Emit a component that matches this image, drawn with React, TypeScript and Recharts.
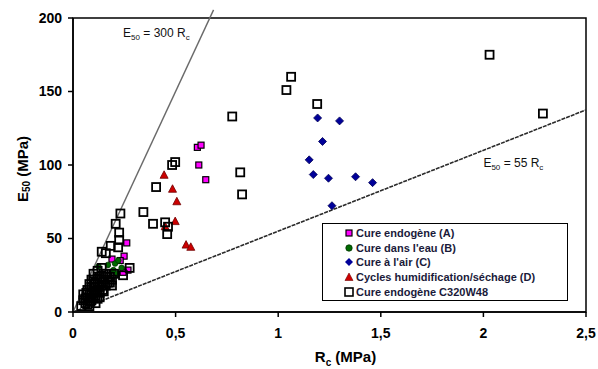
import React from "react";
import {
  ScatterChart,
  Scatter,
  XAxis,
  YAxis,
  ReferenceLine,
  ReferenceArea,
  ReferenceDot,
} from "recharts";

// ---- data ----
const xTicks = [0, 0.5, 1, 1.5, 2, 2.5];
const yTicks = [0, 50, 100, 150, 200];

const seriesNames = [
  "Cure endogène (A)",
  "Cure dans l'eau (B)",
  "Cure à l'air (C)",
  "Cycles humidification/séchage (D)",
  "Cure endogène C320W48",
];

const cureEndogeneA: [number, number][] = [
  [0.606, 112], [0.624, 113.5], [0.613, 100], [0.647, 90], [0.262, 47],
  [0.249, 38], [0.268, 28.5], [0.244, 27], [0.19, 36], [0.081, 10], [0.23, 35],
];
const cureEauB: [number, number][] = [
  [0.124, 31], [0.205, 33], [0.221, 35], [0.237, 30], [0.197, 28.5],
  [0.17, 32], [0.215, 26],
];
const cureAirC: [number, number][] = [
  [1.192, 132], [1.216, 116], [1.151, 103.5], [1.171, 93.5], [1.245, 91],
  [1.299, 130], [1.377, 92], [1.46, 88], [1.262, 72.3],
];
const cyclesD: [number, number][] = [
  [0.444, 93], [0.485, 83.5], [0.506, 75], [0.498, 61.5], [0.449, 58],
  [0.551, 45.5], [0.574, 44],
];
const c320w48: [number, number][] = [
  [2.03, 175], [2.29, 135], [1.063, 160], [1.04, 151], [1.19, 141.5],
  [0.776, 133], [0.815, 95], [0.824, 80], [0.483, 100], [0.498, 102],
  [0.405, 85], [0.39, 60], [0.343, 68], [0.449, 61], [0.463, 58], [0.459, 53],
  [0.231, 67], [0.208, 60], [0.225, 54], [0.225, 49], [0.22, 44], [0.184, 45],
  [0.14, 41], [0.16, 40], [0.276, 30], [0.244, 25],
  [0.04, 4], [0.05, 8], [0.05, 12], [0.06, 6], [0.07, 10], [0.07, 15],
  [0.08, 4], [0.08, 19], [0.09, 8], [0.09, 13], [0.1, 17], [0.1, 22],
  [0.11, 6], [0.11, 11], [0.12, 15], [0.12, 20], [0.13, 24], [0.13, 10],
  [0.14, 18], [0.15, 22], [0.15, 14], [0.16, 26], [0.17, 20], [0.18, 24],
  [0.19, 18], [0.12, 28], [0.14, 30], [0.1, 26],
  [0.06, 9], [0.07, 5], [0.08, 12], [0.09, 17], [0.1, 10], [0.11, 14],
  [0.11, 20], [0.12, 9], [0.13, 17], [0.14, 22], [0.15, 26], [0.16, 18],
  [0.17, 24], [0.18, 20], [0.19, 22], [0.09, 22], [0.1, 13], [0.13, 13],
  [0.12, 24], [0.2, 26], [0.065, 13], [0.085, 7], [0.105, 19], [0.145, 15],
];

const line300 = [{ x: 0, y: 0 }, { x: 0.685, y: 205.5 }];
const line55 = [{ x: 0, y: 0 }, { x: 2.5, y: 137.5 }];
const label300Pos = { x: 0.244, y: 190 };
const label55Pos = { x: 2.0, y: 101.4 };

const toPts = (arr: [number, number][]) => arr.map(([R, E]) => ({ R, E }));

const FONT = "'Liberation Sans', Arial, sans-serif";

// ---- shapes ----
const HollowSquare = (p: any) => (
  <rect x={p.cx - 4} y={p.cy - 4} width={8} height={8} fill="none" stroke="#000" strokeWidth={1.8} />
);
const MagentaSquare = (p: any) => (
  <rect x={p.cx - 3} y={p.cy - 3} width={6} height={6} fill="#ff00ff" stroke="#000" strokeWidth={1.2} />
);
const GreenCircle = (p: any) => (
  <circle cx={p.cx} cy={p.cy} r={2.8} fill="#006a00" stroke="#003300" strokeWidth={0.8} />
);
const BlueDiamond = (p: any) => (
  <polygon
    points={`${p.cx},${p.cy - 4} ${p.cx + 4},${p.cy} ${p.cx},${p.cy + 4} ${p.cx - 4},${p.cy}`}
    fill="#000099"
    stroke="#000055"
    strokeWidth={0.8}
  />
);
const RedTriangle = (p: any) => (
  <polygon
    points={`${p.cx},${p.cy - 4.5} ${p.cx + 4},${p.cy + 3} ${p.cx - 4},${p.cy + 3}`}
    fill="#cc0000"
    stroke="#700000"
    strokeWidth={0.8}
  />
);

const eqText = (coef: string) => (p: any) => (
  <text x={p.cx} y={p.cy + 4} fontFamily={FONT} fontSize={12} fill="#111" textAnchor="start">
    E<tspan fontSize={8} dy={3}>50</tspan>
    <tspan dy={-3}>{` = ${coef} R`}</tspan>
    <tspan fontSize={8} dy={3}>c</tspan>
  </text>
);

const YLabel = (props: any) => {
  const vb = props.viewBox || { x: 0, y: 0, width: 0, height: 0 };
  const cx = 22;
  const cy = vb.y + vb.height / 2 + 4;
  return (
    <text
      x={cx}
      y={cy}
      transform={`rotate(-90 ${cx} ${cy})`}
      textAnchor="middle"
      dominantBaseline="central"
      fontFamily={FONT}
      fontWeight="bold"
      fontSize={15}
      fill="#000"
    >
      E<tspan fontSize={10} dy={4}>50</tspan>
      <tspan dy={-4}> (MPa)</tspan>
    </text>
  );
};

const XLabel = (props: any) => {
  const vb = props.viewBox || { x: 0, y: 0, width: 0, height: 0 };
  const cx = vb.x + vb.width / 2 + 16;
  const cy = vb.y + 50;
  return (
    <text x={cx} y={cy} textAnchor="middle" fontFamily={FONT} fontWeight="bold" fontSize={15} fill="#000">
      R<tspan fontSize={10} dy={4}>c</tspan>
      <tspan dy={-4}> (MPa)</tspan>
    </text>
  );
};

const legendMarkers = [
  <svg width={10} height={10} key="a"><rect x={2} y={2} width={6} height={6} fill="#ff00ff" stroke="#000" strokeWidth={1.2} /></svg>,
  <svg width={10} height={10} key="b"><circle cx={5} cy={5} r={3.2} fill="#006a00" stroke="#003300" strokeWidth={0.8} /></svg>,
  <svg width={10} height={10} key="c"><polygon points="5,1 9,5 5,9 1,5" fill="#000099" /></svg>,
  <svg width={10} height={10} key="d"><polygon points="5,1 9,8.5 1,8.5" fill="#cc0000" stroke="#700000" strokeWidth={0.6} /></svg>,
  <svg width={10} height={10} key="e"><rect x={1} y={1} width={8} height={8} fill="none" stroke="#000" strokeWidth={1.6} /></svg>,
];

const tickStyle = { fill: "#000", fontSize: 14, fontWeight: "bold", fontFamily: FONT } as any;

export default function App() {
  return (
    <div style={{ position: "relative", width: 598, height: 369 }}>
      <style>{"html,body{margin:0;padding:0;overflow:hidden}"}</style>
      <ScatterChart width={598} height={369} margin={{ top: 18, right: 12, bottom: 0, left: 0 }}>
        <ReferenceArea x1={0} x2={2.5} y1={0} y2={200} fill="none" stroke="#000" strokeWidth={1.5} ifOverflow="visible" />
        <XAxis
          type="number"
          dataKey="R"
          domain={[0, 2.5]}
          ticks={xTicks}
          interval={0}
          height={57}
          tickFormatter={(v: number) => String(v).replace(".", ",")}
          tick={tickStyle}
          tickSize={5}
          tickMargin={11}
          axisLine={{ stroke: "#000", strokeWidth: 1.5 }}
          tickLine={{ stroke: "#000", strokeWidth: 1.5 }}
          label={<XLabel />}
          allowDataOverflow
        />
        <YAxis
          type="number"
          dataKey="E"
          domain={[0, 200]}
          ticks={yTicks}
          interval={0}
          width={73}
          tick={tickStyle}
          tickSize={5}
          tickMargin={6}
          axisLine={{ stroke: "#000", strokeWidth: 1.5 }}
          tickLine={{ stroke: "#000", strokeWidth: 1.5 }}
          label={<YLabel />}
          allowDataOverflow
        />
        <ReferenceLine segment={line300} stroke="#6a6a6a" strokeWidth={1.4} ifOverflow="visible" />
        <ReferenceLine segment={line55} stroke="#2a2a2a" strokeWidth={1.6} strokeDasharray="4 1" ifOverflow="visible" />
        <ReferenceDot x={label300Pos.x} y={label300Pos.y} r={0} shape={eqText("300")} ifOverflow="visible" />
        <ReferenceDot x={label55Pos.x} y={label55Pos.y} r={0} shape={eqText("55")} ifOverflow="visible" />
        <Scatter name={seriesNames[0]} data={toPts(cureEndogeneA)} shape={MagentaSquare} isAnimationActive={false} />
        <Scatter name={seriesNames[1]} data={toPts(cureEauB)} shape={GreenCircle} isAnimationActive={false} />
        <Scatter name={seriesNames[2]} data={toPts(cureAirC)} shape={BlueDiamond} isAnimationActive={false} />
        <Scatter name={seriesNames[3]} data={toPts(cyclesD)} shape={RedTriangle} isAnimationActive={false} />
        <Scatter name={seriesNames[4]} data={toPts(c320w48)} shape={HollowSquare} isAnimationActive={false} />
      </ScatterChart>
      <div
        style={{
          position: "absolute",
          left: 322,
          top: 223,
          width: 244,
          height: 74,
          border: "1.5px solid #000",
          background: "#fff",
          fontFamily: FONT,
          fontWeight: "bold",
          fontSize: 11,
          color: "#1a1a3a",
          paddingTop: 2,
          boxSizing: "content-box",
        }}
      >
        {seriesNames.map((n, i) => (
          <div key={n} style={{ display: "flex", alignItems: "center", height: 14.6, paddingLeft: 21, whiteSpace: "nowrap" }}>
            <span style={{ display: "inline-block", width: 10, height: 10, marginRight: 2, lineHeight: 0 }}>{legendMarkers[i]}</span>
            <span>{n}</span>
          </div>
        ))}
      </div>
    </div>
  );
}
